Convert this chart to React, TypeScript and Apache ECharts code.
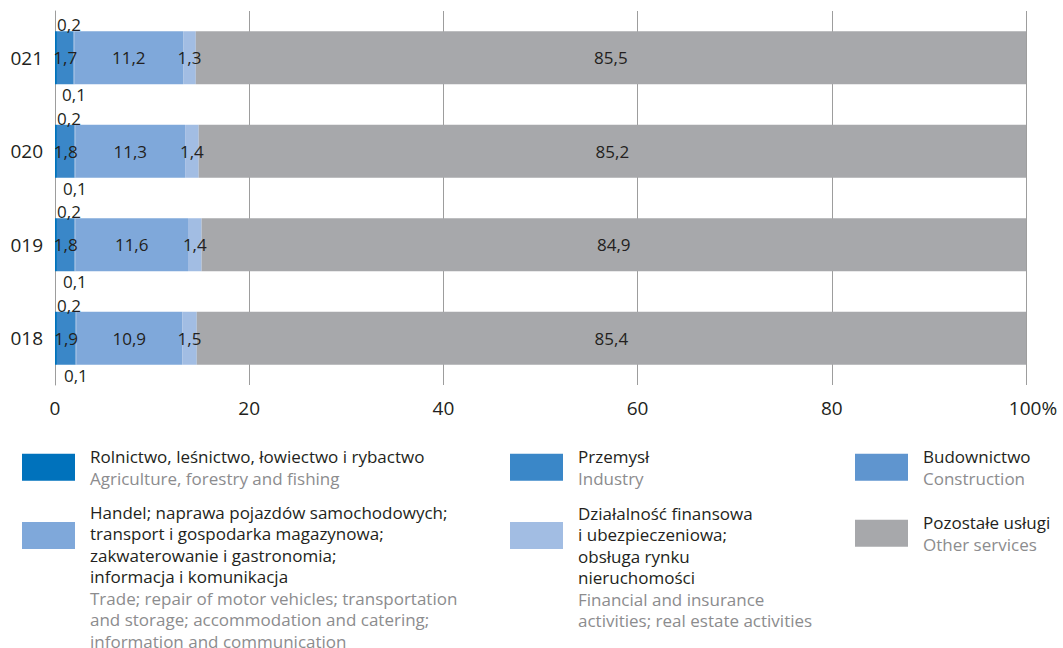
import React, { useEffect, useRef } from "react";
import * as echarts from "echarts";

const years = ["2018", "2019", "2020", "2021"];
const agri = [0.2, 0.2, 0.2, 0.2];
const industry = [1.9, 1.8, 1.8, 1.7];
const construction = [0.1, 0.1, 0.1, 0.1];
const trade = [10.9, 11.6, 11.3, 11.2];
const finance = [1.5, 1.4, 1.4, 1.3];
const other = [85.4, 84.9, 85.2, 85.5];

const xTicks = [0, 20, 40, 60, 80, 100];

const seriesNames = [
  "Rolnictwo, leśnictwo, łowiectwo i rybactwo",
  "Przemysł",
  "Budownictwo",
  "Handel; naprawa pojazdów samochodowych; transport i gospodarka magazynowa; zakwaterowanie i gastronomia; informacja i komunikacja",
  "Działalność finansowa i ubezpieczeniowa; obsługa rynku nieruchomości",
  "Pozostałe usługi",
];

const legendPl: string[][] = [
  ["Rolnictwo, leśnictwo, łowiectwo i rybactwo"],
  ["Przemysł"],
  ["Budownictwo"],
  [
    "Handel; naprawa pojazdów samochodowych;",
    "transport i gospodarka magazynowa;",
    "zakwaterowanie i gastronomia;",
    "informacja i komunikacja",
  ],
  ["Działalność finansowa", "i ubezpieczeniowa;", "obsługa rynku", "nieruchomości"],
  ["Pozostałe usługi"],
];

const legendEn: string[][] = [
  ["Agriculture, forestry and fishing"],
  ["Industry"],
  ["Construction"],
  [
    "Trade; repair of motor vehicles; transportation",
    "and storage; accommodation and catering;",
    "information and communication",
  ],
  ["Financial and insurance", "activities; real estate activities"],
  ["Other services"],
];

const colors = ["#0072bc", "#3a87c8", "#5f95cf", "#7fa8da", "#a2bde3", "#a7a8ab"];

const FONT = "'Open Sans', sans-serif";
const DARK = "#231f20";
const GREY = "#8c8c8e";

export default function App() {
  const ref = useRef<HTMLDivElement>(null);

  useEffect(() => {
    document.body.style.margin = "0";
    if (!ref.current) return;
    const chart = echarts.init(ref.current, null, { renderer: "svg" });

    const values = [agri, industry, construction, trade, finance, other];
    const fmt = (p: any) => String(p.value).replace(".", ",");

    const labelBase = {
      show: true,
      color: DARK,
      fontSize: 17,
      fontFamily: FONT,
      textBorderWidth: 0,
      formatter: fmt,
    };
    const labels: any[] = [
      { ...labelBase, position: "top", distance: 0, offset: [13, 2] },
      { ...labelBase, position: "inside" },
      { ...labelBase, position: "bottom", distance: 2 },
      { ...labelBase, position: "inside" },
      { ...labelBase, position: "inside" },
      { ...labelBase, position: "inside" },
    ];

    const series = values.map((v, i) => ({
      name: seriesNames[i],
      type: "bar",
      stack: "total",
      barWidth: 53,
      data: v,
      itemStyle: { color: colors[i] },
      label: labels[i],
      emphasis: { disabled: true },
    }));

    // [icon left, icon top, first line centre (null = centred on icon)]
    const legendPos: [number, number, number | null][] = [
      [22, 456, null],
      [510, 456, null],
      [855, 456, null],
      [22, 522, 512],
      [510, 522, 513],
      [855, 522, null],
    ];
    const LH = 21.5;
    const ICON_H = 27;
    const legends = seriesNames.map((name, i) => {
      const [left, top, firstCentre] = legendPos[i];
      const nLines = legendPl[i].length + legendEn[i].length;
      const contentH = nLines * LH;
      const c = top + ICON_H / 2;
      const spacer =
        firstCentre == null ? 0 : 2 * (firstCentre - LH / 2 - c) + contentH;
      const H = contentH + spacer;
      const boundTop = Math.min(0, ICON_H / 2 - H / 2);
      const lines: string[] = [];
      if (spacer > 0) lines.push("{sp| }");
      legendPl[i].forEach((l) => lines.push(`{pl|${l}}`));
      legendEn[i].forEach((l) => lines.push(`{en|${l}}`));
      const txt = (color: string) => ({
        fontSize: 17,
        fontFamily: FONT,
        color,
        lineHeight: LH,
        padding: [0, 0, 0, 10],
      });
      return {
        data: [name],
        left,
        top: top + boundTop,
        padding: 0,
        itemWidth: 53,
        itemHeight: ICON_H,
        icon: "rect",
        selectedMode: false,
        orient: "vertical",
        formatter: () => lines.join("\n"),
        textStyle: {
          fontFamily: FONT,
          rich: {
            sp: { height: spacer, lineHeight: spacer, fontSize: 1 },
            pl: txt(DARK),
            en: txt(GREY),
          },
        },
      };
    });

    chart.setOption({
      animation: false,
      textStyle: { fontFamily: FONT },
      grid: { left: 55, top: 11, right: 37, bottom: 263 },
      xAxis: {
        type: "value",
        min: xTicks[0],
        max: xTicks[xTicks.length - 1],
        interval: 20,
        axisLine: { show: false },
        axisTick: { show: false },
        splitLine: { show: true, lineStyle: { color: "#9d9d9d", width: 1 } },
        axisLabel: {
          margin: 13,
          fontSize: 19,
          color: DARK,
          fontFamily: FONT,
          formatter: (v: number) => (v === 100 ? "{h|100%}" : String(v)),
          rich: {
            h: { fontSize: 19, color: DARK, fontFamily: FONT, padding: [0, 0, 0, 14] },
          },
        },
      },
      yAxis: {
        type: "category",
        data: years,
        axisLine: { show: true, lineStyle: { color: "#9d9d9d", width: 1 } },
        axisTick: { show: false },
        axisLabel: {
          margin: 12,
          fontSize: 19,
          color: DARK,
          fontFamily: FONT,
          formatter: (v: string) => v.slice(1),
        },
      },
      legend: legends,
      series,
    });

    return () => chart.dispose();
  }, []);

  return <div ref={ref} style={{ width: 1063, height: 648 }} />;
}
